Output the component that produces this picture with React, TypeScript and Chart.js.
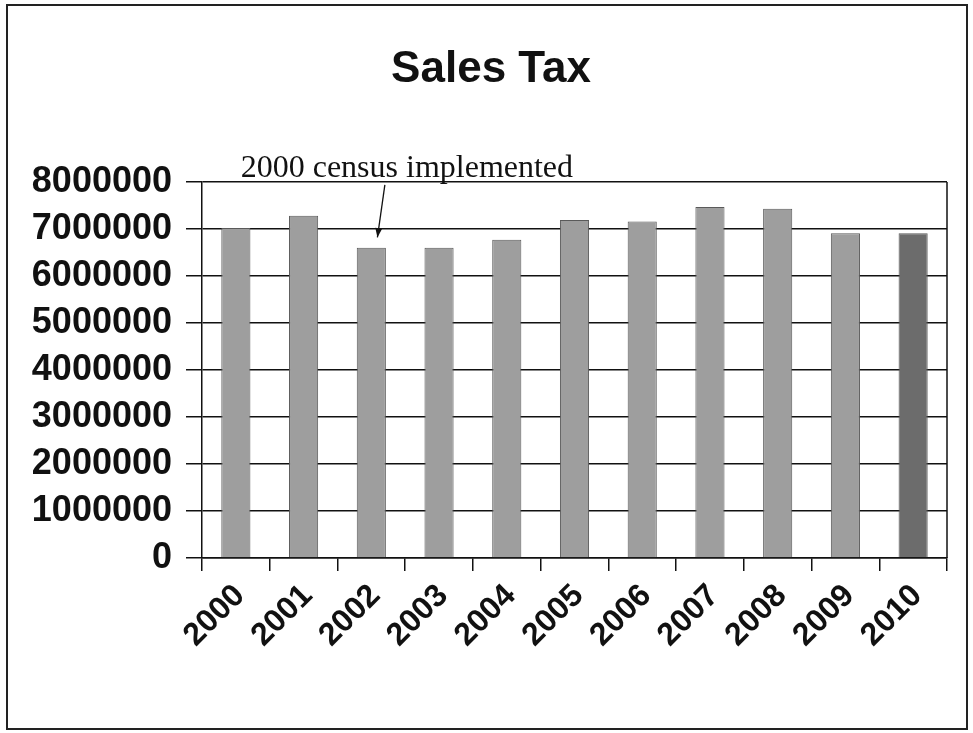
import React, { useEffect, useRef } from "react";
import { Chart, registerables } from "chart.js";

Chart.register(...registerables);

const years: string[] = ["2000", "2001", "2002", "2003", "2004", "2005", "2006", "2007", "2008", "2009", "2010"];
const salesTax: number[] = [7020000, 7280000, 6600000, 6600000, 6770000, 7190000, 7160000, 7470000, 7430000, 6910000, 6910000];
const barColors: string[] = ["#9e9e9e", "#9e9e9e", "#9e9e9e", "#9e9e9e", "#9e9e9e", "#9e9e9e", "#9e9e9e", "#9e9e9e", "#9e9e9e", "#9e9e9e", "#6c6c6c"];
const titleText = "Sales Tax";
const annotationText = "2000 census implemented";
// annotation anchors in data space: [categoryIndex, value]
const annotationLabelAt: [number, number] = [2.525, 8106000];
const arrowFrom: [number, number] = [2.2, 7940000];
const arrowTo: [number, number] = [2.09, 6820000];

const decorPlugin = {
  id: "decor",
  afterDraw(chart: any) {
    const { ctx, chartArea, scales } = chart;
    const x = scales.x;
    const y = scales.y;
    ctx.save();
    // right frame of plot area
    ctx.strokeStyle = "#111";
    ctx.lineWidth = 1.5;
    ctx.beginPath();
    ctx.moveTo(chartArea.right, chartArea.top);
    ctx.lineTo(chartArea.right, chartArea.bottom);
    ctx.stroke();
    // outer frame
    ctx.lineWidth = 2;
    ctx.strokeStyle = "#222";
    ctx.strokeRect(7, 5, chart.width - 13, chart.height - 9);
    // title
    ctx.fillStyle = "#111";
    ctx.font = "bold 44px 'Liberation Sans', Arial, sans-serif";
    ctx.textAlign = "center";
    ctx.textBaseline = "middle";
    ctx.fillText(titleText, 491, 70);
    // annotation text
    ctx.font = "32px 'Liberation Serif', 'Times New Roman', serif";
    ctx.textAlign = "center";
    ctx.textBaseline = "alphabetic";
    ctx.fillText(annotationText, x.getPixelForValue(annotationLabelAt[0]), y.getPixelForValue(annotationLabelAt[1]));
    // arrow
    const x1 = x.getPixelForValue(arrowFrom[0]);
    const y1 = y.getPixelForValue(arrowFrom[1]);
    const x2 = x.getPixelForValue(arrowTo[0]);
    const y2 = y.getPixelForValue(arrowTo[1]);
    ctx.strokeStyle = "#111";
    ctx.lineWidth = 1.3;
    ctx.beginPath();
    ctx.moveTo(x1, y1);
    ctx.lineTo(x2, y2);
    ctx.stroke();
    const ang = Math.atan2(y2 - y1, x2 - x1);
    const hl = 10;
    ctx.beginPath();
    ctx.moveTo(x2, y2);
    ctx.lineTo(x2 - hl * Math.cos(ang - 0.35), y2 - hl * Math.sin(ang - 0.35));
    ctx.lineTo(x2 - hl * Math.cos(ang + 0.35), y2 - hl * Math.sin(ang + 0.35));
    ctx.closePath();
    ctx.fill();
    ctx.restore();
  },
};

export default function App() {
  const canvasRef = useRef<HTMLCanvasElement | null>(null);

  useEffect(() => {
    document.body.style.margin = "0";
    document.body.style.background = "#fff";
    const canvas = canvasRef.current;
    if (!canvas) return;
    const chart = new Chart(canvas, {
      type: "bar",
      data: {
        labels: years,
        datasets: [
          {
            label: "Sales Tax",
            data: salesTax,
            backgroundColor: barColors,
            borderColor: "#5a5a5a",
            borderWidth: 1,
            categoryPercentage: 1,
            barPercentage: 0.43,
          },
        ],
      },
      options: {
        animation: false,
        responsive: false,
        maintainAspectRatio: false,
        layout: { padding: { left: 0, right: 26, top: 182, bottom: 0 } },
        plugins: {
          legend: { display: false },
          tooltip: { enabled: false },
          title: { display: false },
        },
        scales: {
          x: {
            grid: {
              display: true,
              drawOnChartArea: false,
              drawTicks: true,
              tickLength: 13,
              color: "#111",
              lineWidth: 1.5,
              offset: true,
            },
            border: { display: true, color: "#111", width: 1.5 },
            ticks: {
              color: "#111",
              maxRotation: 45,
              minRotation: 45,
              padding: 6,
              labelOffset: 4,
              font: { family: "'Liberation Sans', Arial, sans-serif", size: 32, weight: "bold" },
            },
            afterFit(scale: any) {
              scale.height = 175;
            },
          },
          y: {
            min: 0,
            max: 8000000,
            grid: {
              color: "#111",
              lineWidth: 1.5,
              tickLength: 16,
              drawTicks: true,
            },
            border: { display: true, color: "#111", width: 1.5 },
            ticks: {
              stepSize: 1000000,
              color: "#111",
              padding: 14,
              font: { family: "'Liberation Sans', Arial, sans-serif", size: 36, weight: "bold" },
              callback: (v: any) => String(v),
            },
            afterFit(scale: any) {
              scale.width = 202;
            },
          },
        },
      },
      plugins: [decorPlugin],
    });
    return () => chart.destroy();
  }, []);

  return <canvas ref={canvasRef} width={973} height={733} style={{ display: "block" }} />;
}
